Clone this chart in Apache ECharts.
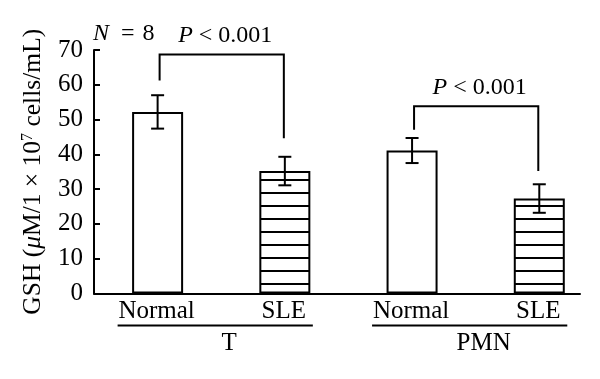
<!DOCTYPE html>
<html><head><meta charset="utf-8">
<script src="https://cdn.jsdelivr.net/npm/echarts@6/dist/echarts.min.js"></script>
<style>html,body{margin:0;padding:0;background:#fff}#c{width:600px;height:379px}</style>
</head><body><div id="c"></div>
<script>
// ---- data ----
const categories = ['Normal', 'SLE', 'Normal', 'SLE'];
const groups = ['T', 'PMN'];
const groupMembers = [[0, 1], [2, 3]];
const means = [52.2, 35.2, 41.1, 27.3];
const errors = [4.8, 4.1, 3.6, 4.1];
const hatched = [false, true, false, true];
const yMin = 0, yMax = 70, yInterval = 10;
const bracketFrom = [0, 2];
const bracketTo = [1, 3];
const bracketTop = [68.7, 53.8];
const bracketLeftEnd = [61.2, 47.1];
const bracketRightEnd = [44.6, 35.2];
const bracketLabels = ['P < 0.001', 'P < 0.001'];
const sampleSize = 8;

// ---- styles ----
const FONT = '"Liberation Serif", "Times New Roman", serif';
const FS = 25;
const FSA = 24;
const pc = document.createElement('canvas');
pc.width = 8; pc.height = 13;
const pctx = pc.getContext('2d');
pctx.fillStyle = '#fff'; pctx.fillRect(0, 0, 8, 13);
pctx.fillStyle = '#000'; pctx.fillRect(0, 10, 8, 2);
const hatch = { image: pc, repeat: 'repeat' };

function italicP(s) { return s.replace(/^P/, '{i|P}'); }

const chart = echarts.init(document.getElementById('c'), null, { renderer: 'canvas' });
chart.setOption({
  animation: false,
  backgroundColor: '#fff',
  grid: { left: 94, right: 20, top: 50, bottom: 85.5, containLabel: false },
  xAxis: {
    type: 'value', min: -0.5, max: 3.32,
    axisLine: { show: true, onZero: false, lineStyle: { color: '#000', width: 2 } },
    axisTick: { show: false }, axisLabel: { show: false }, splitLine: { show: false }
  },
  yAxis: {
    type: 'value', min: yMin, max: yMax, interval: yInterval,
    name: 'GSH ({i|μ}M/1 × 10{sup|7} cells/mL)',
    nameLocation: 'middle', nameGap: 38, nameRotate: 90,
    nameTextStyle: {
      fontFamily: FONT, fontSize: 25.5, color: '#000', lineHeight: 27,
      rich: {
        i: { fontFamily: FONT, fontSize: 25.5, fontStyle: 'italic', color: '#000', lineHeight: 27 },
        sup: { fontFamily: FONT, fontSize: 16, color: '#000', verticalAlign: 'top', lineHeight: 27 }
      }
    },
    axisLine: { show: true, onZero: false, lineStyle: { color: '#000', width: 2 } },
    axisTick: { show: true, inside: true, length: 6, lineStyle: { color: '#000', width: 2 } },
    axisLabel: { fontFamily: FONT, fontSize: FS, color: '#000', margin: 11 },
    splitLine: { show: false }
  },
  graphic: [{
    type: 'text', left: 93, top: 22,
    style: { text: '{i|N}\u2002=\u2004' + sampleSize, fontFamily: FONT, fontSize: FSA, fill: '#000',
      rich: { i: { fontFamily: FONT, fontSize: FSA, fontStyle: 'italic', color: '#000' } } }
  }],
  series: [
    {
      type: 'bar', barWidth: 51,
      data: means.map((m, i) => ({
        value: [i, m],
        itemStyle: { color: hatched[i] ? hatch : '#fff', borderColor: '#000', borderWidth: 2 }
      })),
      z: 2
    },
    {
      type: 'custom', z: 5, clip: false,
      data: means.map((m, i) => [i, m, errors[i]]),
      renderItem(params, api) {
        const x = api.value(0), m = api.value(1), e = api.value(2);
        const t = api.coord([x, m + e]), b = api.coord([x, m - e]);
        const h = 6.5, st = { stroke: '#000', lineWidth: 2 };
        return { type: 'group', children: [
          { type: 'line', shape: { x1: t[0], y1: t[1], x2: b[0], y2: b[1] }, style: st },
          { type: 'line', shape: { x1: t[0] - h, y1: t[1], x2: t[0] + h, y2: t[1] }, style: st },
          { type: 'line', shape: { x1: b[0] - h, y1: b[1], x2: b[0] + h, y2: b[1] }, style: st }
        ] };
      }
    },
    {
      type: 'custom', z: 5, clip: false,
      data: bracketFrom.map((f, i) => [f, bracketTop[i], bracketLeftEnd[i], bracketRightEnd[i], bracketTo[i]]),
      renderItem(params, api) {
        const x0 = api.value(0), top = api.value(1), le = api.value(2), re = api.value(3), x1 = api.value(4);
        const a = api.coord([x0, top]), b = api.coord([x1, top]);
        const al = api.coord([x0, le]), br = api.coord([x1, re]);
        const st = { stroke: '#000', lineWidth: 2, fill: null };
        return { type: 'group', children: [
          { type: 'polyline', shape: { points: [[al[0] + 2, al[1]], [a[0] + 2, a[1]], [b[0] - 1, b[1]], [br[0] - 1, br[1]]] }, style: st },
          { type: 'text', style: {
            text: italicP(bracketLabels[params.dataIndex]), x: (a[0] + b[0]) / 2 + 4, y: a[1] - 19,
            align: 'center', verticalAlign: 'middle', fontFamily: FONT, fontSize: FSA, fill: '#000',
            rich: { i: { fontFamily: FONT, fontSize: FSA, fontStyle: 'italic', fill: '#000' } } } }
        ] };
      }
    },
    {
      type: 'custom', z: 5, clip: false,
      data: categories.map((c, i) => [i, 0]),
      renderItem(params, api) {
        const p = api.coord([api.value(0), 0]);
        return { type: 'text', style: { text: categories[params.dataIndex], x: p[0] - 1, y: p[1] + 18,
          align: 'center', verticalAlign: 'middle', fontFamily: FONT, fontSize: FS, fill: '#000' } };
      }
    },
    {
      type: 'custom', z: 5, clip: false,
      data: groupMembers.map(g => [g[0], 0, g[1]]),
      renderItem(params, api) {
        const a = api.coord([api.value(0), 0]), b = api.coord([api.value(2), 0]);
        const y = a[1] + 32;
        return { type: 'group', children: [
          { type: 'line', shape: { x1: a[0] - 40, y1: y, x2: b[0] + 28, y2: y }, style: { stroke: '#000', lineWidth: 2 } },
          { type: 'text', style: { text: groups[params.dataIndex], x: (a[0] + b[0]) / 2 + 8, y: a[1] + 50,
            align: 'center', verticalAlign: 'middle', fontFamily: FONT, fontSize: FS, fill: '#000' } }
        ] };
      }
    }
  ]
});
</script></body></html>
